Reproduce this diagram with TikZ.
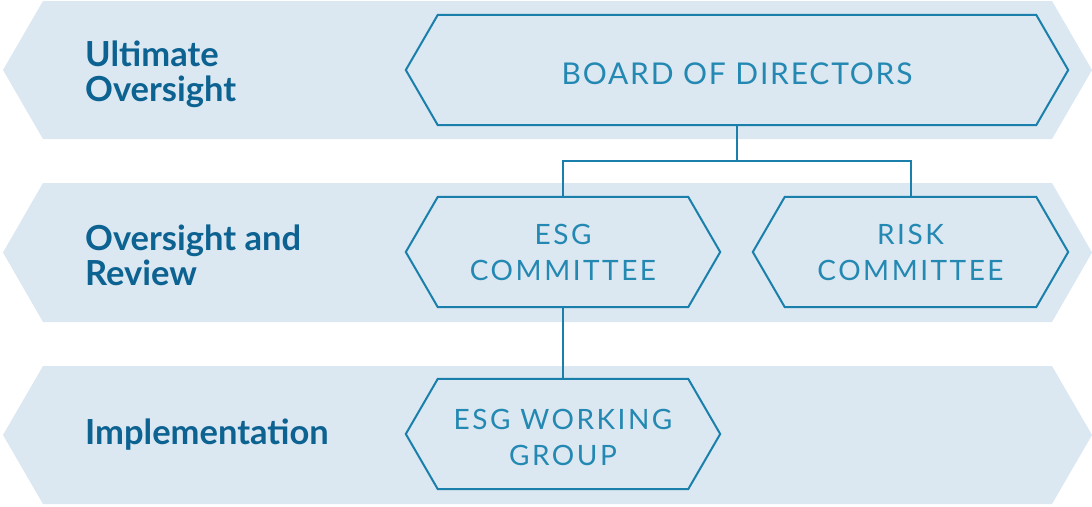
\documentclass[tikz,border=0pt]{standalone}
\usepackage{fontspec}
\setmainfont{Lato}
\newfontfamily\boxfont[LetterSpace=9]{Lato}
\newfontfamily\boardfont[LetterSpace=6]{Lato}
\definecolor{bandfill}{HTML}{DBE7F1}
\definecolor{hexblue}{HTML}{1A80AB}
\definecolor{boxtext}{HTML}{2388B2}
\definecolor{labelblue}{HTML}{0C6291}
\begin{document}
\begin{tikzpicture}[x=1pt,y=-1pt,
  band/.style={fill=bandfill,draw=none},
  hexbox/.style={inner sep=0pt,minimum height=110pt},
  boxlabel/.style={inner sep=0pt,align=center,text=boxtext,
    font=\boxfont\fontsize{28}{36}\selectfont},
  hexline/.style={draw=hexblue,line width=2pt,line join=miter},
  link/.style={draw=hexblue,line width=2pt},
  tier/.style={anchor=west,align=left,inner sep=0pt,text=labelblue,
    font=\bfseries\fontsize{34.5}{35}\selectfont}]
\useasboundingbox (0,0) rectangle (1092,506);

% background tiers
\foreach \t/\b in {1/139,183/322,366/504}{
  \path[band] (3,{(\t+\b)/2}) -- (43,\t) -- (1052,\t) -- (1092,{(\t+\b)/2})
    -- (1052,\b) -- (43,\b) -- cycle;
}

% tier labels
\node[tier] (l1) at (85,74) {Ultimate\\Oversight};
\node[tier] (l2) at (85,255) {Oversight and\\Review};
\node[tier] (l3) at (85,435) {Implementation};

% committee boxes (outline frames)
\node[hexbox,minimum width=598pt] (board) at (737,70) {};
\node[hexbox,minimum width=250pt] (esg) at (563,252) {};
\node[hexbox,minimum width=251pt] (risk) at (910.5,252) {};
\node[hexbox,minimum width=250pt] (wg) at (563,434) {};

\foreach \n in {board,esg,risk,wg}{
  \draw[hexline] (\n.north west) -- (\n.north east) -- ([xshift=32pt]\n.east)
    -- (\n.south east) -- (\n.south west) -- ([xshift=-32pt]\n.west) -- cycle;
}

% box texts
\node[boxlabel,font=\boardfont\fontsize{30}{36}\selectfont] (tboard) at ([yshift=-3.5pt]board.center) {BOARD OF DIRECTORS};
\node[boxlabel] (tesg) at ([yshift=-0.5pt]esg.center) {ESG\\COMMITTEE};
\node[boxlabel] (trisk) at ([yshift=-0.5pt]risk.center) {RISK\\COMMITTEE};
\node[boxlabel] (twg) at ([yshift=-3pt]wg.center) {ESG WORKING\\GROUP};

% reporting lines
\coordinate (split) at (737,161);
\draw[link] (board.south) -- (split);
\draw[link] (esg.north) |- (split) -| (risk.north);
\draw[link] (esg.south) -- (wg.north);
\end{tikzpicture}
\end{document}
